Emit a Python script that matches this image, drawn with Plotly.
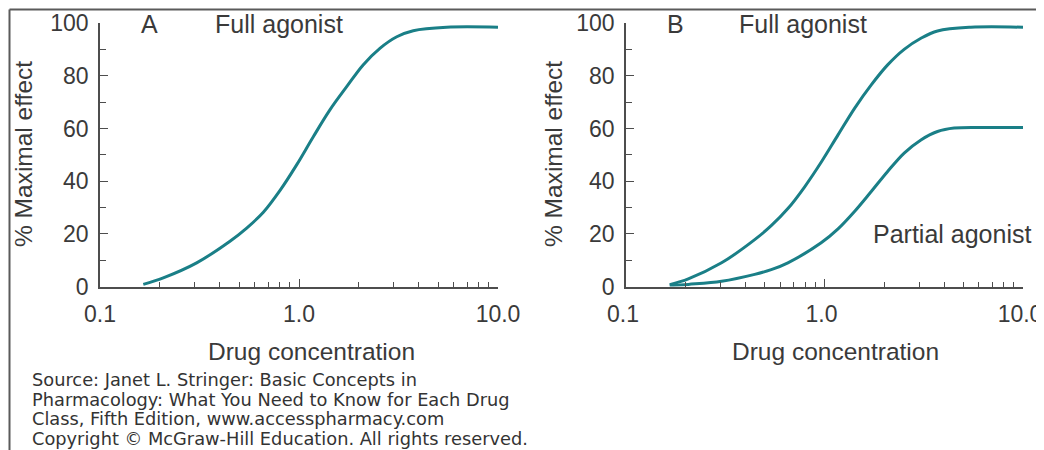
import plotly.graph_objects as go

# ---- data ----
conc_a = [0.165, 0.208, 0.306, 0.450, 0.546, 0.662, 0.803, 0.973, 1.18, 1.43, 1.74, 2.10, 2.55, 3.10, 3.75, 5.52, 10.0]
eff_a = [0.8, 3.3, 9.0, 17.2, 22.2, 28.2, 36.5, 46.2, 56.9, 67.1, 76.0, 84.2, 90.5, 94.9, 97.2, 98.5, 98.5]

conc_b_full = [0.166, 0.206, 0.303, 0.445, 0.539, 0.654, 0.793, 0.962, 1.17, 1.42, 1.72, 2.08, 2.52, 3.06, 3.71, 5.46, 10.0]
eff_b_full = [0.7, 2.9, 9.0, 17.8, 23.1, 29.6, 37.8, 47.2, 57.6, 67.8, 76.6, 84.2, 90.1, 94.3, 97.1, 98.5, 98.5]

conc_b_partial = [0.166, 0.206, 0.303, 0.445, 0.539, 0.654, 0.962, 1.17, 1.42, 1.72, 2.08, 2.52, 3.06, 3.71, 4.50, 6.62, 10.0]
eff_b_partial = [0.3, 0.8, 2.0, 4.6, 6.4, 9.0, 16.6, 21.9, 28.6, 36.1, 43.7, 50.7, 55.7, 58.9, 60.2, 60.4, 60.4]

x_tickvals = [0.1, 1.0, 10.0]
x_ticktext = ["0.1", "1.0", "10.0"]
x_minorvals = [0.2, 0.3, 0.4, 0.5, 0.6, 0.7, 0.8, 0.9, 2, 3, 4, 5, 6, 7, 8, 9]
y_tickvals = [0, 20, 40, 60, 80, 100]
y_minorvals = [10, 30, 50, 70, 90]

x_title = "Drug concentration"
y_title = "% Maximal effect"
source_lines = [
    "Source: Janet L. Stringer: Basic Concepts in",
    "Pharmacology: What You Need to Know for Each Drug",
    "Class, Fifth Edition, www.accesspharmacy.com",
    "Copyright © McGraw-Hill Education. All rights reserved.",
]

# The page body has an 8px margin, so the figure is sized to fit the window.
OFF = 8
W, H = 1044 - OFF, 450 - OFF
CURVE = "#1a7f87"
AX = "#4d4d4d"
TXT = "#3a3a3a"
FONT = "Liberation Sans, Arial, sans-serif"

def px(x):
    return (x - OFF) / W

def py(y):
    return 1 - (y - OFF) / H

fig = go.Figure()
line = dict(color=CURVE, width=3, shape="spline", smoothing=1.0)
fig.add_trace(go.Scatter(x=conc_a, y=eff_a, mode="lines", line=line, xaxis="x", yaxis="y", showlegend=False))
fig.add_trace(go.Scatter(x=conc_b_full, y=eff_b_full, mode="lines", line=line, xaxis="x2", yaxis="y2", showlegend=False))
fig.add_trace(go.Scatter(x=conc_b_partial, y=eff_b_partial, mode="lines", line=line, xaxis="x2", yaxis="y2", showlegend=False))

def xaxis(domain, anchor, shift):
    return dict(
        type="log", range=[-1, 1], domain=domain, anchor=anchor, automargin=False,
        showline=True, linecolor=AX, linewidth=1.5, showgrid=False, zeroline=False,
        ticks="inside", ticklen=8, tickwidth=1.2, tickcolor=AX,
        tickmode="array", tickvals=x_tickvals, ticktext=x_ticktext,
        ticklabelstandoff=6, ticklabelshift=shift,
        tickfont=dict(size=23, color=TXT, family=FONT),
        minor=dict(tickmode="array", tickvals=x_minorvals, ticks="inside", ticklen=5, tickwidth=1.2, tickcolor=AX, showgrid=False),
    )

def yaxis(domain, anchor):
    return dict(
        range=[0, 100], domain=domain, anchor=anchor, automargin=False,
        showline=True, linecolor=AX, linewidth=1.5, showgrid=False, zeroline=False,
        ticks="inside", ticklen=8, tickwidth=1.2, tickcolor=AX,
        tickmode="array", tickvals=y_tickvals,
        ticklabelstandoff=5,
        tickfont=dict(size=23, color=TXT, family=FONT),
        minor=dict(tickmode="array", tickvals=y_minorvals, ticks="inside", ticklen=6, tickwidth=1.2, tickcolor=AX, showgrid=False),
    )

ydom = [py(286.5), py(23.3)]
fig.update_layout(
    width=W, height=H,
    margin=dict(l=0, r=0, t=0, b=0, autoexpand=False),
    paper_bgcolor="white", plot_bgcolor="white",
    xaxis=xaxis([px(100), px(498)], "y", 0),
    yaxis=yaxis(ydom, "x"),
    xaxis2=xaxis([px(626), px(1023)], "y2", -3),
    yaxis2=yaxis(ydom, "x2"),
    showlegend=False,
)

def note(text, x, y, size, xanchor="center", angle=0, family=FONT, color=TXT):
    fig.add_annotation(text=text, x=px(x), y=py(y), xref="paper", yref="paper", showarrow=False,
                       font=dict(size=size, color=color, family=family), xanchor=xanchor, yanchor="middle",
                       textangle=angle, borderpad=0)

# panel labels
note("A", 149, 24, 25)
note("Full agonist", 279, 24, 25)
note("B", 675, 24, 25)
note("Full agonist", 803, 24, 25)
note("Partial agonist", 872, 234, 25, xanchor="left")

# axis titles
note(x_title, 311, 351, 24.5)
note(x_title, 835, 351, 24.5)
note(y_title, 24, 154, 24.5, angle=-90)
note(y_title, 554, 154, 24.5, angle=-90)

# source credit
for txt, yc in zip(source_lines, [379.5, 399, 418.8, 438]):
    note(txt, 31, yc, 17.8, xanchor="left", family="DejaVu Sans, sans-serif", color="#333333")

# frame round the whole picture (its bottom edge lies below the window)
frame = dict(color="#5a5a5a", width=2)
fig.add_shape(type="line", xref="paper", yref="paper", x0=px(9.5), x1=px(9.5), y0=0, y1=py(9.5), line=frame, layer="above")
fig.add_shape(type="line", xref="paper", yref="paper", x0=px(9.5), x1=px(1040), y0=py(9.5), y1=py(9.5), line=frame, layer="above")
fig.add_shape(type="line", xref="paper", yref="paper", x0=px(1040), x1=px(1040), y0=0, y1=py(9.5), line=frame, layer="above")

# keep the page from growing scrollbars (figure plus the body margin fills the window exactly)
fig.write_html(
    "out.html",
    post_script="document.documentElement.style.overflow='hidden';document.body.style.overflow='hidden';",
)
